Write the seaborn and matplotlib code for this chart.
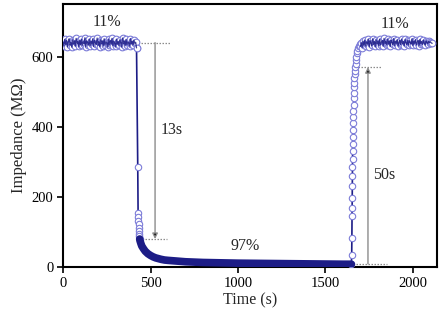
import numpy as np
import pandas as pd
import matplotlib
matplotlib.use("Agg")
import matplotlib.pyplot as plt
import seaborn as sns

# ---- data ----
t_plateau1 = list(range(0, 425, 5))
z_plateau1 = [642, 632, 650, 636, 647, 629, 645, 652, 634, 641, 628, 649, 637, 646, 631,
              653, 639, 644, 630, 648, 635, 651, 633, 643, 638, 655, 629, 646, 640, 634,
              650, 632, 645, 637, 652, 630, 647, 641, 636, 654, 633, 644, 629, 649, 638,
              646, 631, 652, 635, 643, 640, 628, 650, 634, 647, 637, 653, 632, 645, 639,
              630, 651, 636, 644, 633, 649, 641, 629, 654, 638, 646, 632, 650, 635, 643,
              640, 631, 652, 637, 645, 634, 648, 639, 642, 626]

t_drop = [427, 429, 430, 431, 432, 433, 434, 435, 436, 438]
z_drop = [287, 154, 142, 132, 122, 112, 102, 94, 88, 80]

t_decay = [440, 445, 450, 460, 470, 485, 500, 515, 530, 545, 560, 580, 600, 625, 650, 700,
           750, 800, 850, 900, 950, 1000, 1100, 1200, 1300, 1400, 1500, 1600, 1648]
z_decay = [75, 67, 60, 52, 45, 38, 33, 29, 26, 24, 22, 20, 19, 18, 17, 15,
           14, 13, 12.5, 12, 11.5, 11, 10.5, 10, 9.5, 9, 8.5, 8, 8]

t_rise = [1650, 1651, 1652, 1652.5, 1653, 1653.5, 1654, 1654.5, 1655, 1655.5, 1656, 1656.5,
          1657, 1658, 1659, 1660, 1661, 1662, 1663, 1664, 1665, 1666, 1667, 1668, 1670,
          1672, 1674, 1677, 1680, 1683, 1686, 1690, 1695]
z_rise = [34, 83, 146, 169, 197, 231, 260, 285, 308, 330, 352, 372, 392, 410, 428, 446,
          464, 482, 498, 513, 527, 540, 551, 561, 571, 581, 591, 601, 610, 618, 626, 632, 636]

t_plateau2 = list(range(1700, 2115, 5))
z_plateau2 = [630, 641, 627, 645, 634, 648, 631, 643, 637, 650, 629, 646, 640, 633, 652,
              636, 644, 630, 649, 638, 645, 632, 651, 635, 642, 647, 631, 653, 639, 644,
              634, 650, 637, 646, 630, 648, 641, 636, 652, 633, 645, 639, 649, 631, 643,
              647, 635, 651, 638, 644, 632, 650, 640, 636, 648, 634, 646, 641, 637, 652,
              633, 645, 639, 649, 635, 643, 647, 632, 650, 638, 644, 636, 648, 640, 634,
              646, 642, 638, 645, 641, 643, 640, 639]

x_ticks = [0, 500, 1000, 1500, 2000]
y_ticks = [0, 200, 400, 600]

# ---- frames ----
df_p1 = pd.DataFrame({"t": t_plateau1, "z": z_plateau1})
df_drop = pd.DataFrame({"t": t_plateau1[-1:] + t_drop, "z": z_plateau1[-1:] + z_drop})
df_decay = pd.DataFrame({"t": [t_drop[-1]] + t_decay, "z": [z_drop[-1]] + z_decay})
df_rise = pd.DataFrame({"t": [t_decay[-1]] + t_rise + t_plateau2[:1],
                        "z": [z_decay[-1]] + z_rise + z_plateau2[:1]})
df_p2 = pd.DataFrame({"t": t_plateau2, "z": z_plateau2})

sns.set_theme(style="ticks")
plt.rcParams["font.family"] = ["Liberation Serif", "DejaVu Serif"]

navy = "#1c1c86"
light = "#7c7cd8"

fig = plt.figure(figsize=(4.44, 3.16), dpi=100)
ax = fig.add_axes([0.142, 0.155, 0.842, 0.832])

mk_open = dict(marker="o", markersize=4.6, markerfacecolor="white",
               markeredgecolor=light, markeredgewidth=0.8)
mk_band = dict(marker="o", markersize=4.8, markerfacecolor="white",
               markeredgecolor=light, markeredgewidth=0.8)

sns.lineplot(data=df_drop, x="t", y="z", sort=False, estimator=None, ax=ax,
             color=navy, linewidth=1.2, zorder=3, **mk_open)
sns.lineplot(data=df_rise, x="t", y="z", sort=False, estimator=None, ax=ax,
             color=navy, linewidth=1.2, zorder=3, **mk_open)
for df in (df_p1, df_p2):
    # open circles, then the connecting trace drawn over them
    sns.lineplot(data=df, x="t", y="z", sort=False, estimator=None, ax=ax,
                 color=navy, linewidth=0, zorder=4, **mk_band)
    sns.lineplot(data=df, x="t", y="z", sort=False, estimator=None, ax=ax,
                 color=navy, linewidth=0.9, alpha=0.85, zorder=5)
sns.lineplot(data=df_decay, x="t", y="z", sort=False, estimator=None, ax=ax,
             color=navy, linewidth=5.5, solid_capstyle="round", zorder=4)

# guide lines
gray = "#8c8c8c"
dots = (0, (1.2, 1.2))
ax.hlines(641, 428, 611, colors=gray, linestyles=dots, linewidth=0.9, zorder=2)
ax.hlines(80, 432, 597, colors=gray, linestyles=dots, linewidth=0.9, zorder=2)
ax.hlines(571, 1651, 1823, colors=gray, linestyles=dots, linewidth=0.9, zorder=2)
ax.hlines(9, 1657, 1851, colors=gray, linestyles=dots, linewidth=0.9, zorder=2)

ax.annotate("", xy=(526, 80), xytext=(526, 641),
            arrowprops=dict(arrowstyle="-|>", lw=1.0, mutation_scale=8,
                            shrinkA=0, shrinkB=0, fc="black", ec=gray))
ax.annotate("", xy=(1743, 571), xytext=(1743, 9),
            arrowprops=dict(arrowstyle="-|>", lw=1.0, mutation_scale=8,
                            shrinkA=0, shrinkB=0, fc="black", ec=gray))

fs = 11.5
ax.text(251, 700, "11%", ha="center", va="center", fontsize=fs)
ax.text(1897, 694, "11%", ha="center", va="center", fontsize=fs)
ax.text(1040, 60, "97%", ha="center", va="center", fontsize=fs)
ax.text(560, 391, "13s", ha="left", va="center", fontsize=fs)
ax.text(1770, 263, "50s", ha="left", va="center", fontsize=fs)

ax.set_xlim(0, 2137)
ax.set_ylim(0, 751)
ax.set_xticks(x_ticks)
ax.set_yticks(y_ticks)
ax.set_xlabel("Time (s)", fontsize=11.5, labelpad=2)
ax.set_ylabel("Impedance (MΩ)", fontsize=12, labelpad=3)
ax.tick_params(axis="both", labelsize=10.5, direction="out", length=4, width=1.2,
               color="black", labelcolor="black", top=False, right=False, pad=3)
for s in ax.spines.values():
    s.set_visible(True)
    s.set_color("black")
    s.set_linewidth(1.5)

fig.savefig("out.png", dpi=100)
